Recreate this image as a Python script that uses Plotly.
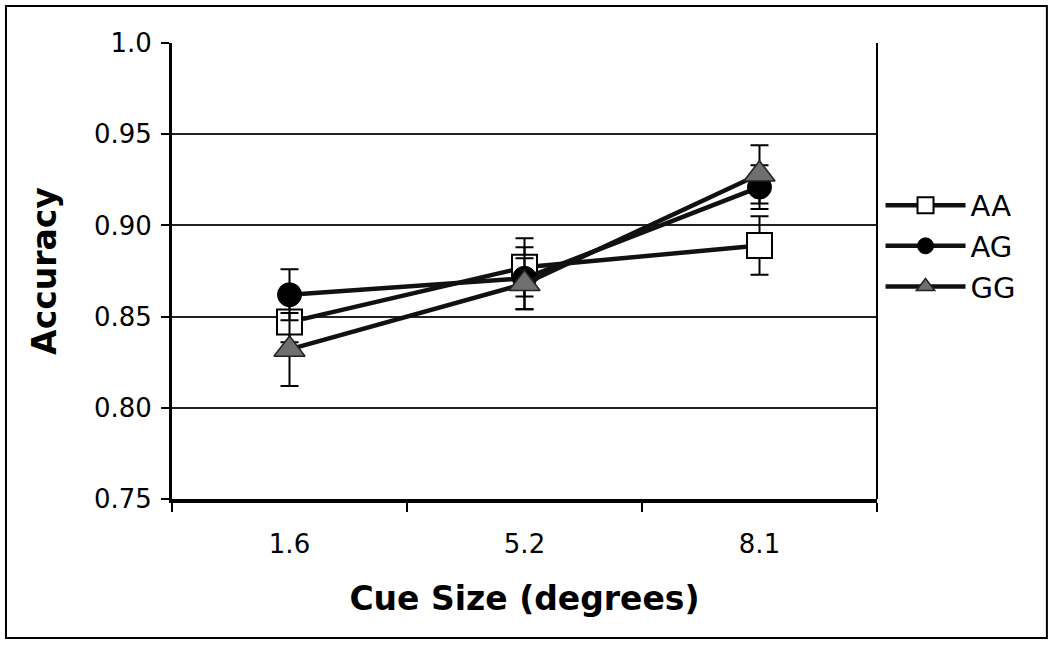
import plotly.graph_objects as go

# Data
cue_sizes = ["1.6", "5.2", "8.1"]
groups = ["AA", "AG", "GG"]

aa_mean = [0.847, 0.877, 0.889]
aa_err = [0.011, 0.016, 0.016]
ag_mean = [0.862, 0.871, 0.921]
ag_err = [0.014, 0.017, 0.012]
gg_mean = [0.832, 0.868, 0.928]
gg_err = [0.020, 0.014, 0.016]

y_ticks = [0.75, 0.80, 0.85, 0.90, 0.95, 1.0]
y_ticktext = ["0.75", "0.80", "0.85", "0.90", "0.95", "1.0"]

FONT = "DejaVu Sans"

styles = {
    "AA": dict(symbol="square", size=25, color="white", line=dict(color="black", width=2)),
    "AG": dict(symbol="circle", size=24, color="black", line=dict(color="black", width=1)),
    "GG": dict(symbol="triangle-up", size=27, color="#6f6f6f", line=dict(color="#222222", width=1.5)),
}
series = {"AA": (aa_mean, aa_err), "AG": (ag_mean, ag_err), "GG": (gg_mean, gg_err)}

fig = go.Figure()

for g in groups:
    mean, err = series[g]
    fig.add_trace(go.Scatter(
        x=cue_sizes, y=mean,
        name=g,
        mode="lines+markers",
        line=dict(color="#111111", width=4.5),
        marker=styles[g],
        error_y=dict(type="data", array=err, visible=True, color="black", thickness=2, width=9),
        cliponaxis=False,
    ))

# outer frame around the whole picture
fig.add_shape(type="rect", xref="paper", yref="paper",
              x0=-0.2355, x1=1.241, y0=-0.305, y1=1.081,
              line=dict(color="black", width=2), fillcolor="rgba(0,0,0,0)", layer="below")

fig.update_layout(
    width=1050, height=645,
    margin=dict(l=172, r=173, t=43, b=146),
    paper_bgcolor="white",
    plot_bgcolor="white",
    font=dict(family=FONT, color="black", size=26),
    showlegend=True,
    legend=dict(
        x=1.005, y=0.70, xanchor="left", yanchor="top",
        font=dict(size=29, family=FONT),
        bgcolor="rgba(0,0,0,0)",
        itemwidth=80,
        tracegroupgap=6,
    ),
    xaxis=dict(
        type="category",
        range=[-0.5, 2.5],
        tickson="boundaries",
        ticks="outside", ticklen=9, tickwidth=2, tickcolor="black",
        showline=True, linecolor="black", linewidth=4,
        showgrid=False, zeroline=False,
        tickfont=dict(size=26, family=FONT),
        ticklabelstandoff=19,
        title=dict(text="<b>Cue Size (degrees)</b>", font=dict(size=33, family=FONT), standoff=30),
        mirror=False,
    ),
    yaxis=dict(
        range=[0.75, 1.0],
        tickvals=y_ticks, ticktext=y_ticktext,
        ticks="outside", ticklen=8, tickwidth=2, tickcolor="black",
        showline=True, linecolor="black", linewidth=3,
        showgrid=True, gridcolor="#222222", gridwidth=2,
        zeroline=False,
        tickfont=dict(size=26, family=FONT),
        ticklabelstandoff=4,
        title=dict(text="<b>Accuracy</b>", font=dict(size=33, family=FONT), standoff=28),
    ),
)

# right border of plotting area
fig.add_shape(type="line", xref="paper", yref="paper", x0=1, x1=1, y0=0, y1=1,
              line=dict(color="black", width=2))

fig.write_html("out.html", config={"displayModeBar": False},
               post_script="document.body.style.margin='0px';")
